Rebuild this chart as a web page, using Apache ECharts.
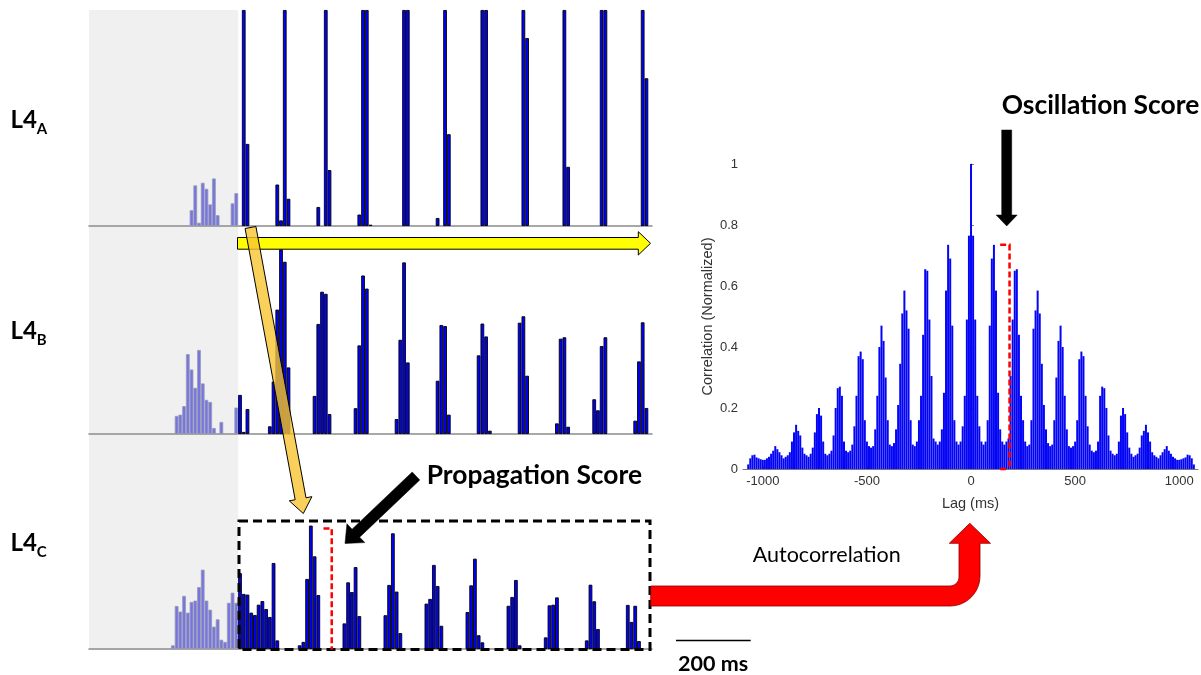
<!DOCTYPE html>
<html><head><meta charset="utf-8">
<script src="https://cdn.jsdelivr.net/npm/echarts@6/dist/echarts.min.js"></script>
<style>html,body{margin:0;padding:0;background:#fff}#c{width:1201px;height:675px}</style>
</head><body><div id="c"></div>
<script>
// ---------- spike histograms (10 ms bins, -400 .. 1100 ms), height in % of panel ----------
const binStartMs = -400, binEndMs = 1100, binMs = 10;

const binsA = [-130,-120,-110,-100,-90,-80,-70,-60,-20,-10,
  10,20,100,110,120,130,210,230,240,320,330,340,350,440,450,530,550,560,650,660,760,770,870,880,970,980,1080,1090];
const valsA = [7.3,18.8,1.5,20,17.2,10,22,5,10.5,15.2,
  100,38,19.2,2.6,100,12.6,8.8,100,25.9,5.3,100,100,0.6,100,100,3.7,100,42.5,100,100,100,87,100,27.4,100,100,100,68.4];

const binsB = [-170,-160,-150,-140,-130,-120,-110,-100,-90,-80,-70,-50,-10,
  0,10,20,80,90,100,110,120,130,200,210,220,230,240,310,320,330,340,420,430,440,450,530,540,550,560,
  640,650,660,670,750,760,770,850,860,870,880,950,960,970,980,1060,1070,1080,1090];
const valsB = [8.7,9.3,13.4,38.4,31,22.2,40.4,24.3,16.4,15.4,2.9,5.8,12.7,
  18.8,1,12,3.7,25.2,59.8,88.8,82.8,32,18.3,52.9,68.4,67.4,9.6,12.4,42.6,76.2,69.9,7.2,45.3,82.5,34.4,25.6,52.4,51.9,9.3,
  37.8,53.1,46.9,1.6,53.5,56.6,28,5.1,45.8,46.5,3.5,16.7,11.4,42.3,46.5,6.4,34.9,53.7,12.5];

const binsC = [-180,-170,-160,-150,-140,-130,-120,-110,-100,-90,-80,-70,-60,-50,-40,-30,-20,-10,
  0,10,20,30,40,50,60,70,80,90,100,160,170,180,190,200,210,280,290,300,310,320,390,400,410,420,430,
  500,510,520,530,540,610,620,630,640,650,720,730,740,750,820,830,840,850,930,940,950,960,1040,1050,1060,1070];
const valsC = [1.7,20,17.4,24.7,16.9,21.9,22.5,28.8,36.9,22.5,18.3,10.4,13.8,4.3,3.3,21.5,26.2,21.5,
  35.3,25.6,25.3,16.9,15.8,20.6,22.3,18.6,14.9,40,4,1.7,3.3,32.6,57.4,43.1,25.1,11.9,31,26.5,38.1,15.3,15.7,29.8,53.8,26.7,7.4,
  21.1,23.3,39.1,29.3,10.8,17.2,29.6,42,6.4,3.1,20.1,24.2,32.1,1.7,5.4,20.3,20.6,24,4,29.9,22.2,9.3,20.5,12.6,20.1,3.7];

// ---------- autocorrelation (10 ms lag bins) ----------
// lags -1070 .. -10
const acfNeg = [0.015,0.035,0.045,0.047,0.038,0.035,0.032,0.03,0.03,0.035,0.04,0.05,0.06,0.075,0.065,0.055,0.045,0.035,0.04,0.045,
  0.055,0.09,0.12,0.145,0.125,0.11,0.07,0.05,0.045,0.04,0.05,0.07,0.12,0.18,0.20,0.175,0.09,0.05,0.045,0.05,
  0.06,0.11,0.20,0.265,0.27,0.24,0.09,0.06,0.055,0.06,0.08,0.14,0.24,0.37,0.385,0.36,0.16,0.09,0.075,0.07,
  0.075,0.13,0.24,0.40,0.47,0.42,0.30,0.16,0.08,0.075,0.085,0.13,0.21,0.345,0.51,0.585,0.52,0.46,0.16,0.08,
  0.075,0.09,0.16,0.24,0.44,0.655,0.65,0.49,0.305,0.10,0.09,0.08,0.09,0.13,0.25,0.585,0.735,0.69,0.47,0.16,
  0.09,0.08,0.09,0.14,0.24,0.49,0.765];
// lags 0 .. 1070
const acfPos = [1.00,0.765,0.49,0.24,0.14,0.09,0.08,0.09,0.16,0.47,0.69,0.735,0.585,0.25,0.13,0.09,0.08,0.09,0.10,0.305,
  0.49,0.65,0.655,0.44,0.24,0.16,0.09,0.075,0.08,0.16,0.46,0.52,0.585,0.51,0.345,0.21,0.13,0.085,0.075,0.08,
  0.16,0.30,0.42,0.47,0.40,0.24,0.13,0.075,0.07,0.075,0.09,0.16,0.36,0.385,0.37,0.24,0.14,0.08,0.06,0.055,
  0.06,0.09,0.24,0.27,0.265,0.20,0.11,0.06,0.05,0.045,0.05,0.09,0.175,0.20,0.18,0.12,0.07,0.05,0.04,0.045,
  0.05,0.07,0.11,0.125,0.145,0.12,0.09,0.055,0.045,0.04,0.035,0.045,0.055,0.065,0.075,0.06,0.05,0.04,0.035,0.03,
  0.03,0.032,0.035,0.038,0.047,0.045,0.035,0.015];
const acfLagStep = 10;
const acfXTicks = [-1000, -500, 0, 500, 1000];

// ---------- build ----------
const cats = [];
for (let t = binStartMs; t <= binEndMs; t += binMs) cats.push(String(t));
const preStyle = {color: '#7676e2', borderColor: '#9a9ab2', borderWidth: 0.8};
function toData(bins, vals) {
  const arr = cats.map(() => '-');
  bins.forEach((b, i) => {
    const idx = (b - binStartMs) / binMs;
    arr[idx] = b < 0 ? {value: vals[i], itemStyle: preStyle} : vals[i];
  });
  return arr;
}
const acfData = [];
acfNeg.forEach((v, j) => acfData.push([(j - acfNeg.length) * acfLagStep, v]));
acfPos.forEach((v, i) => acfData.push([i * acfLagStep, v]));

const PL = 89, PW = 563;
const panels = [{top: 10, height: 216}, {top: 226, height: 208}, {top: 434, height: 215}];
const grids = panels.map(p => ({left: PL, width: PW, top: p.top, height: p.height}));
grids.push({left: 743, width: 455, top: 164, height: 305});

const xAxes = panels.map((p, i) => ({
  type: 'category', gridIndex: i, data: cats, boundaryGap: true,
  axisLine: {show: true, lineStyle: {color: '#8c8c8c', width: 1.5}},
  axisTick: {show: false}, axisLabel: {show: false}, splitLine: {show: false}
}));
const yAxes = panels.map((p, i) => ({type: 'value', gridIndex: i, min: 0, max: 100, show: false}));

const axisFont = 'Liberation Sans';
xAxes.push({
  type: 'value', gridIndex: 3, min: -1095, max: 1090,
  axisLine: {show: true, lineStyle: {color: '#7a7a7a', width: 1}},
  axisTick: {show: true, inside: true, length: 3, customValues: acfXTicks, lineStyle: {color: '#7a7a7a'}},
  axisLabel: {customValues: acfXTicks, formatter: v => String(v), color: '#333', fontSize: 13, fontFamily: axisFont, margin: 6},
  splitLine: {show: false},
  name: 'Lag (ms)', nameLocation: 'middle', nameGap: 27,
  nameTextStyle: {color: '#333', fontSize: 14.5, fontFamily: axisFont}
});
yAxes.push({
  type: 'value', gridIndex: 3, min: 0, max: 1, interval: 0.2,
  axisLine: {show: true, lineStyle: {color: '#7a7a7a', width: 1}},
  axisTick: {show: true, inside: true, length: 3, lineStyle: {color: '#7a7a7a'}},
  axisLabel: {formatter: v => String(+(+v).toFixed(1)), color: '#333', fontSize: 13, fontFamily: axisFont, margin: 5},
  splitLine: {show: false},
  name: 'Correlation (Normalized)', nameLocation: 'middle', nameGap: 28, nameRotate: 90,
  nameTextStyle: {color: '#333', fontSize: 14.5, fontFamily: axisFont}
});

const series = [[binsA, valsA], [binsB, valsB], [binsC, valsC]].map((d, i) => ({
  type: 'bar', xAxisIndex: i, yAxisIndex: i, data: toData(d[0], d[1]),
  barCategoryGap: '0%', itemStyle: {color: '#0000ff', borderColor: '#000', borderWidth: 0.9}, z: 2
}));
series.push({
  type: 'bar', xAxisIndex: 3, yAxisIndex: 3, data: acfData, barWidth: 2,
  itemStyle: {color: '#0505f5'}, z: 2
});

const chart = echarts.init(document.getElementById('c'), null, {renderer: 'canvas'});
chart.setOption({animation: false, grid: grids, xAxis: xAxes, yAxis: yAxes, series: series});

// ---------- annotations ----------
function arrowPts(sx, sy, tx, ty, sh, hh, hl) {
  const dx = tx - sx, dy = ty - sy, L = Math.hypot(dx, dy);
  const ux = dx / L, uy = dy / L, nx = -uy, ny = ux;
  const bx = tx - ux * hl, by = ty - uy * hl;
  return [[sx + nx * sh, sy + ny * sh], [bx + nx * sh, by + ny * sh], [bx + nx * hh, by + ny * hh], [tx, ty],
          [bx - nx * hh, by - ny * hh], [bx - nx * sh, by - ny * sh], [sx - nx * sh, sy - ny * sh]];
}
function arcPts(cx, cy, r, a0, a1, n) {
  const pts = [];
  for (let k = 0; k <= n; k++) { const a = (a0 + (a1 - a0) * k / n) * Math.PI / 180; pts.push([cx + r * Math.cos(a), cy + r * Math.sin(a)]); }
  return pts;
}
const binW = PW / cats.length;
const preWidth = (0 - binStartMs) / binMs * binW;

// red bent arrow
const redPts = [[650.7, 586]].concat(arcPts(950, 577, 9, 90, 0, 8))
  .concat([[959, 543.3], [949.3, 543.3], [969.8, 523.3], [990.5, 543.3], [980, 543.3]])
  .concat(arcPts(950, 576, 30, 0, 90, 12)).concat([[650.7, 606]]);

// ACF bracket via data coords
const g3 = {gridIndex: 3};
const bTopL = chart.convertToPixel(g3, [140, 0.735]);
const bTopR = chart.convertToPixel(g3, [185, 0.735]);
const bBotL = chart.convertToPixel(g3, [140, 0]);
const bBotR = chart.convertToPixel(g3, [170, 0]);
// panel C bracket
const xC = PL + (251 - binStartMs) / binMs * binW;

const txt = (x, y, text, font, align) => ({type: 'text', x: x, y: y, z: 30,
  style: {text: text, font: font, fill: '#000', textAlign: align || 'left', textVerticalAlign: 'middle'}});
const redDash = {stroke: '#ff0000', lineWidth: 2.5, lineDash: [6, 3], fill: null};

const elements = [
  {type: 'rect', z: -1, silent: true, shape: {x: PL, y: 10, width: preWidth, height: 640}, style: {fill: '#f0f0f0'}},
  // yellow arrow
  {type: 'polygon', z: 20, shape: {points: [[237.5, 237.5], [638.3, 237.5], [638.3, 231.7], [650.5, 243.3], [638.3, 255], [638.3, 249.2], [237.5, 249.2]]},
   style: {fill: '#ffff00', stroke: '#000', lineWidth: 1}},
  // gold arrow
  {type: 'polygon', z: 21, shape: {points: arrowPts(250.5, 227.5, 303.3, 513.5, 5.5, 11.5, 15)},
   style: {fill: 'rgba(247,196,48,0.8)', stroke: '#000', lineWidth: 1}},
  // black dashed box
  {type: 'rect', z: 22, shape: {x: 239, y: 521, width: 411, height: 128.5},
   style: {fill: null, stroke: '#000', lineWidth: 3, lineDash: [9, 5]}},
  // red bracket in panel C
  {type: 'polyline', z: 23, shape: {points: [[323.5, 528.5], [xC, 528.5], [xC, 649.5]]}, style: redDash},
  // propagation arrow
  {type: 'polygon', z: 24, shape: {points: arrowPts(416, 476, 345, 543.5, 5.5, 13, 15)}, style: {fill: '#000', stroke: '#000', lineWidth: 0.5}},
  // oscillation arrow
  {type: 'polygon', z: 24, shape: {points: arrowPts(1006.7, 130, 1006.7, 226, 5, 10.5, 11)}, style: {fill: '#000', stroke: '#000', lineWidth: 0.5}},
  // ACF bracket
  {type: 'polyline', z: 23, shape: {points: [bTopL, bTopR, [bTopR[0], bBotR[1]]]}, style: redDash},
  {type: 'line', z: 23, shape: {x1: bBotL[0], y1: bBotL[1], x2: bBotR[0], y2: bBotR[1]}, style: redDash},
  // red bent arrow
  {type: 'polygon', z: 24, shape: {points: redPts}, style: {fill: '#ff0000', stroke: '#8a0000', lineWidth: 0.8}},
  // scale bar
  {type: 'line', z: 24, shape: {x1: 676, y1: 640.5, x2: 750.7, y2: 640.5}, style: {stroke: '#000', lineWidth: 1.5}},
  txt(678, 664.5, '200 ms', 'bold 21.5px Lato'),
  txt(752.7, 555, 'Autocorrelation', 'normal 21.5px Lato'),
  txt(426.7, 475.7, 'Propagation Score', 'bold 26.4px Lato'),
  txt(1001.7, 105, 'Oscillation Score', 'bold 26.4px Lato'),
  txt(10.5, 120, 'L4', 'bold 24px Lato'), txt(36.7, 128.7, 'A', 'bold 15px Lato'),
  txt(10.5, 331.5, 'L4', 'bold 24px Lato'), txt(36.7, 339.7, 'B', 'bold 15px Lato'),
  txt(10.5, 543, 'L4', 'bold 24px Lato'), txt(36.7, 551.7, 'C', 'bold 15px Lato')
];
chart.setOption({graphic: {elements: elements}});
</script>
</body></html>
